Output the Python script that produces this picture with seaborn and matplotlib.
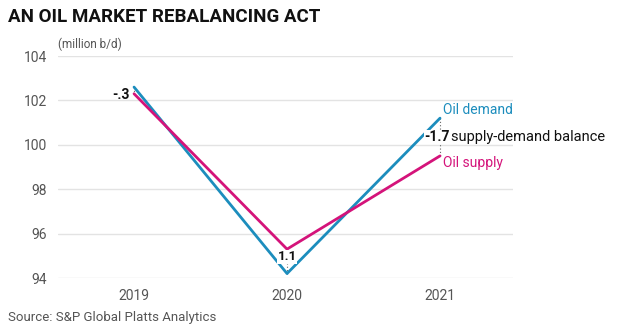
import matplotlib
matplotlib.use("Agg")
import matplotlib.pyplot as plt
import seaborn as sns
import pandas as pd

years = ["2019", "2020", "2021"]
demand = [102.6, 94.2, 101.2]
supply = [102.3, 95.3, 99.5]
balance_labels = ["-.3", "1.1", "-1.7"]
yticks = [94, 96, 98, 100, 102, 104]

blue = "#1c8dbd"
pink = "#d4137a"
grey = "#555555"

sns.set_theme(style="white")
plt.rcParams['font.family'] = ['Roboto', 'DejaVu Sans']

fig = plt.figure(figsize=(6.18, 3.34), dpi=100)
ax = fig.add_axes([58/618, 1-278/334, (513-58)/618, (278-56)/334])

df = pd.DataFrame({"x": list(range(3)) * 2,
                   "value": demand + supply,
                   "series": ["Oil demand"] * 3 + ["Oil supply"] * 3})
sns.lineplot(data=df, x="x", y="value", hue="series",
             palette={"Oil demand": blue, "Oil supply": pink},
             linewidth=2.0, legend=False, ax=ax, zorder=3)
for line in ax.lines:
    line.set_clip_on(False)

# dotted connectors
for i in range(3):
    ax.plot([i, i], [demand[i], supply[i]], color="#666666", lw=0.8,
            ls=(0, (1, 2)), zorder=2, clip_on=False)

ax.set_xlim(-0.497, 2.477)
ax.set_ylim(94, 104)
ax.set_yticks(yticks)
ax.set_yticklabels([str(t) for t in yticks])
ax.set_xticks(range(3))
ax.set_xticklabels(years)
ax.grid(axis="y", color="#e3e3e3", lw=1.0)
ax.grid(axis="x", visible=False)
for s in ax.spines.values():
    s.set_visible(False)
ax.tick_params(axis="both", length=0, labelsize=10, labelcolor=grey)
ax.tick_params(axis="y", pad=8)
ax.tick_params(axis="x", pad=8)
ax.set_xlabel("")
ax.set_ylabel("")

# balance labels
ax.text(-0.03, 102.25, balance_labels[0], ha="right", va="center",
        fontsize=10, fontweight="bold", color="#111111", zorder=4)
ax.text(1.0, 94.95, balance_labels[1], ha="center", va="center",
        fontsize=9.5, fontweight="bold", color="#111111", zorder=4,
        bbox=dict(boxstyle="square,pad=0.02", fc="white", ec="none"))
ax.text(1.90, 100.35, balance_labels[2], ha="left", va="center",
        fontsize=10, fontweight="bold", color="#111111", zorder=4,
        bbox=dict(boxstyle="square,pad=0.02", fc="white", ec="none"))
ax.text(2.075, 100.35, "supply-demand balance", ha="left", va="center",
        fontsize=10.5, color="#111111", zorder=4)
ax.text(2.02, 101.55, "Oil demand", ha="left", va="center",
        fontsize=10, color=blue, zorder=4)
ax.text(2.02, 99.2, "Oil supply", ha="left", va="center",
        fontsize=10, color=pink, zorder=4)

fig.text(8/618, 1-17/334, "AN OIL MARKET REBALANCING ACT", ha="left", va="center",
         fontsize=13.5, fontweight="bold", color="#111111")
fig.text(58/618, 1-44/334, "(million b/d)", ha="left", va="center",
         fontsize=8.5, color=grey)
fig.text(8/618, 1-318/334, "Source: S&P Global Platts Analytics", ha="left", va="center",
         fontsize=9.5, color=grey)

fig.savefig("out.png", dpi=100)
